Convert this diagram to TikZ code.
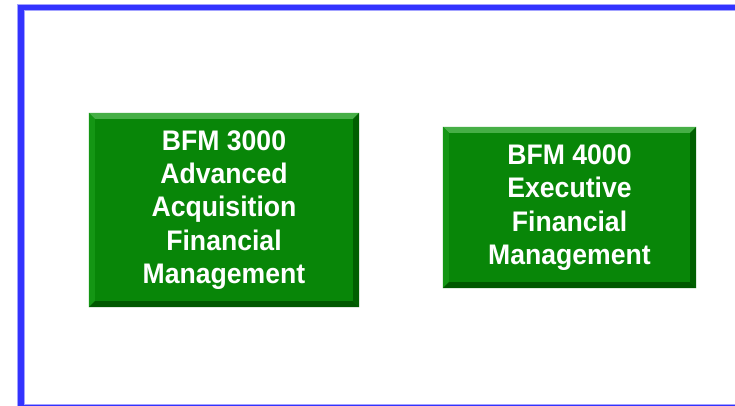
\documentclass[tikz,border=0pt]{standalone}
\usepackage{fontspec}
\setmainfont{Liberation Sans}
\newfontfamily\boxfont[FakeStretch=0.94]{Liberation Sans}
\definecolor{frameblue}{RGB}{51,51,255}
\definecolor{boxgreen}{RGB}{8,134,8}
\definecolor{bevellight}{RGB}{70,175,70}
\definecolor{beveldark}{RGB}{0,88,0}
\definecolor{bevelmid}{RGB}{20,150,20}
\begin{document}
\begin{tikzpicture}[x=1pt,y=-1pt,
  coursebox/.style={fill=boxgreen, draw=none, inner sep=0pt, align=center,
    text=white, font=\boxfont\bfseries\fontsize{28.3}{33.4}\selectfont},
  bevel/.style={draw=none}]
\useasboundingbox (0,0) rectangle (735,405);
\fill[white] (0,0) rectangle (735,405);
\draw[frameblue!45, line width=7.5pt] (21,7.5) rectangle (770,408);
\draw[frameblue, line width=5.5pt] (21,7.5) rectangle (770,408);

\node[coursebox, minimum width=270pt, minimum height=194pt] (b1) at (224,210)
  {BFM 3000\\Advanced\\Acquisition\\Financial\\Management};
\node[coursebox, minimum width=253pt, minimum height=161pt] (b2) at (569.5,207.5)
  {BFM 4000\\Executive\\Financial\\Management};

\foreach \b in {b1,b2}{
  \fill[bevellight] (\b.north west) -- (\b.north east) -- ([shift={(-6,6)}]\b.north east) -- ([shift={(6,6)}]\b.north west) -- cycle;
  \fill[bevelmid] (\b.north west) -- ([shift={(6,6)}]\b.north west) -- ([shift={(6,-6)}]\b.south west) -- (\b.south west) -- cycle;
  \fill[beveldark] (\b.south west) -- ([shift={(6,-6)}]\b.south west) -- ([shift={(-6,-6)}]\b.south east) -- (\b.south east) -- cycle;
  \fill[beveldark!85!boxgreen] (\b.north east) -- (\b.south east) -- ([shift={(-6,-6)}]\b.south east) -- ([shift={(-6,6)}]\b.north east) -- cycle;
}
\end{tikzpicture}
\end{document}
